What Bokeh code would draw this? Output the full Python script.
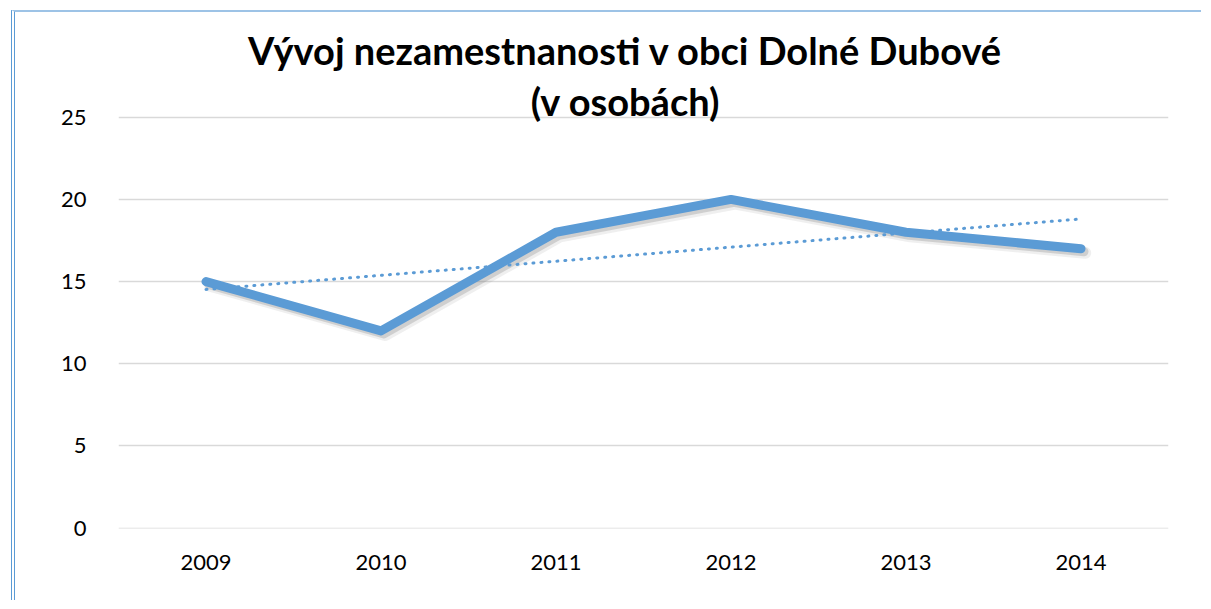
import numpy as np
from bokeh.plotting import figure
from bokeh.models import FactorRange, Range1d, FixedTicker, Label, ColumnDataSource
from bokeh.transform import dodge
from bokeh.embed import file_html
from bokeh.resources import INLINE

years = ["2009", "2010", "2011", "2012", "2013", "2014"]
unemployed = [15, 12, 18, 20, 18, 17]
y_ticks = [0, 5, 10, 15, 20, 25]
title_1 = "Vývoj nezamestnanosti v obci Dolné Dubové"
title_2 = "(v osobách)"

# linear trend (Excel-style trendline) derived from the series
idx = np.arange(1, len(unemployed) + 1)
slope, intercept = np.polyfit(idx, unemployed, 1)
trend = [float(slope * i + intercept) for i in idx]

FONT = "Lato"
W, H = 1190, 590

# frame extends above the 25 line so the two-line title can sit inside it
p = figure(width=W, height=H, x_range=FactorRange(*years), y_range=Range1d(-0.02, 30.64),
           output_backend="svg", toolbar_location=None,
           min_border_left=103, min_border_right=37, min_border_top=12, min_border_bottom=74)
p.outline_line_color = None
p.background_fill_color = "white"
p.border_fill_color = "white"

src = ColumnDataSource(dict(x=years, y=unemployed, t=trend))

# shadow
p.line(x=dodge("x", 0.024, range=p.x_range), y=dodge("y", -0.25), source=src,
       line_width=12, line_color="#7f7f7f", line_alpha=0.12, line_join="round", line_cap="round")
p.line(x=dodge("x", 0.017, range=p.x_range), y=dodge("y", -0.18), source=src,
       line_width=9, line_color="#7f7f7f", line_alpha=0.28, line_join="round", line_cap="round")
# main line
p.line(x="x", y="y", source=src, line_width=9, line_color="#5B9BD5",
       line_join="round", line_cap="round")
# trendline
p.line(x="x", y="t", source=src, line_width=3, line_color="#5B9BD5",
       line_dash="1 7", line_cap="round")

p.xgrid.grid_line_color = None
p.ygrid.grid_line_color = "#D9D9D9"
p.ygrid.grid_line_width = 1.4
p.yaxis.ticker = FixedTicker(ticks=y_ticks)

for ax in (p.xaxis[0], p.yaxis[0]):
    ax.axis_line_color = None
    ax.major_tick_line_color = None
    ax.minor_tick_line_color = None
    ax.major_label_text_font = FONT
    ax.major_label_text_font_size = "22px"
    ax.major_label_text_color = "#000000"
p.yaxis.major_label_standoff = 26
p.xaxis.major_label_standoff = 20

for txt, yy in ((title_1, 479), (title_2, 428)):
    p.add_layout(Label(x=507, y=yy, x_units="screen", y_units="screen", text=txt,
                       text_font=FONT, text_font_style="bold", text_font_size="38px",
                       text_align="center", text_baseline="alphabetic", text_color="#000000"))

p.styles = {"border-top": "2px solid #9DC3E6", "border-left": "4px double #5B9BD5",
            "margin-left": "11px", "margin-top": "10px"}

open("out.html", "w").write(file_html(p, INLINE))
